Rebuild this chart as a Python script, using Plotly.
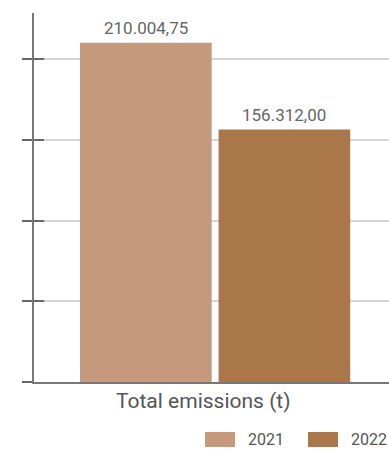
import plotly.graph_objects as go

category = ["Total emissions (t)"]
years = ["2021", "2022"]
values = [210004.75, 156312.00]
colors = ["#C4997C", "#AA774B"]
ytick_vals = [0, 50000, 100000, 150000, 200000]

BARGAP = 0.235
GROUPGAP = 0.05
XRANGE = [-0.5, 0.48]
PLOT_W = 355
PLOT_H = 454 - 13 - 72

fig = go.Figure()
for yr, v, c in zip(years, values, colors):
    fig.add_trace(go.Bar(
        x=category, y=[v], name=yr, marker=dict(color=c, line=dict(width=0)),
        showlegend=False, hoverinfo="x+y",
    ))
fig.add_trace(go.Scatter(x=category, y=[None], yaxis="y2", showlegend=False, hoverinfo="skip"))

# value labels above bars
unit_px = PLOT_W / (XRANGE[1] - XRANGE[0])
slot_px = (1 - BARGAP) / len(years) * unit_px
for i, v in enumerate(values):
    label = f"{v:,.2f}".replace(",", "X").replace(".", ",").replace("X", ".")
    fig.add_annotation(x=category[0], y=v, xref="x", yref="y", text=label,
                       xshift=(i - (len(years) - 1) / 2) * slot_px, yshift=3,
                       yanchor="bottom", showarrow=False,
                       font=dict(family="Roboto", size=17, color="#666666"))

# category label under the axis
fig.add_annotation(text=category[0], xref="paper", yref="paper",
                   x=(203.5 - 34) / PLOT_W, y=-19 / PLOT_H, xanchor="center", yanchor="middle",
                   showarrow=False, font=dict(family="Roboto", size=21, color="#555555"))

fig.update_layout(
    width=389, height=454,
    margin=dict(l=34, r=0, t=13, b=72),
    plot_bgcolor="white", paper_bgcolor="white",
    barmode="group", bargap=BARGAP, bargroupgap=GROUPGAP,
    font=dict(family="Roboto", color="#555555"),
    xaxis=dict(range=XRANGE, showticklabels=False, ticks="",
               showline=True, linecolor="#777777", linewidth=2, zeroline=False),
    yaxis=dict(range=[0, 228500], tickvals=ytick_vals, showticklabels=False,
               ticks="outside", ticklen=10, tickcolor="#666666", tickwidth=1.5,
               showgrid=True, gridcolor="#d6d6d6", gridwidth=1.5,
               showline=True, linecolor="#777777", linewidth=2, zeroline=False),
    yaxis2=dict(range=[0, 228500], overlaying="y", tickvals=ytick_vals, showticklabels=False,
                ticks="inside", ticklen=10, tickcolor="#666666", tickwidth=1.5,
                showgrid=False, zeroline=False, showline=False, side="left"),
)

# custom legend (swatches + labels) in paper coordinates
leg_x_px = [205, 308]
for i, (yr, c) in enumerate(zip(years, colors)):
    x0 = (leg_x_px[i] - 34) / PLOT_W
    fig.add_shape(type="rect", xref="paper", yref="paper",
                  x0=x0, x1=x0 + 30 / PLOT_W, y0=-50 / PLOT_H, y1=-65 / PLOT_H,
                  fillcolor=c, line=dict(width=0))
    fig.add_annotation(text=yr, xref="paper", yref="paper", x=x0 + 41 / PLOT_W,
                       y=-57.5 / PLOT_H, xanchor="left", yanchor="middle",
                       showarrow=False, font=dict(family="Roboto", size=16, color="#555555"))

fig.write_html("out.html")
